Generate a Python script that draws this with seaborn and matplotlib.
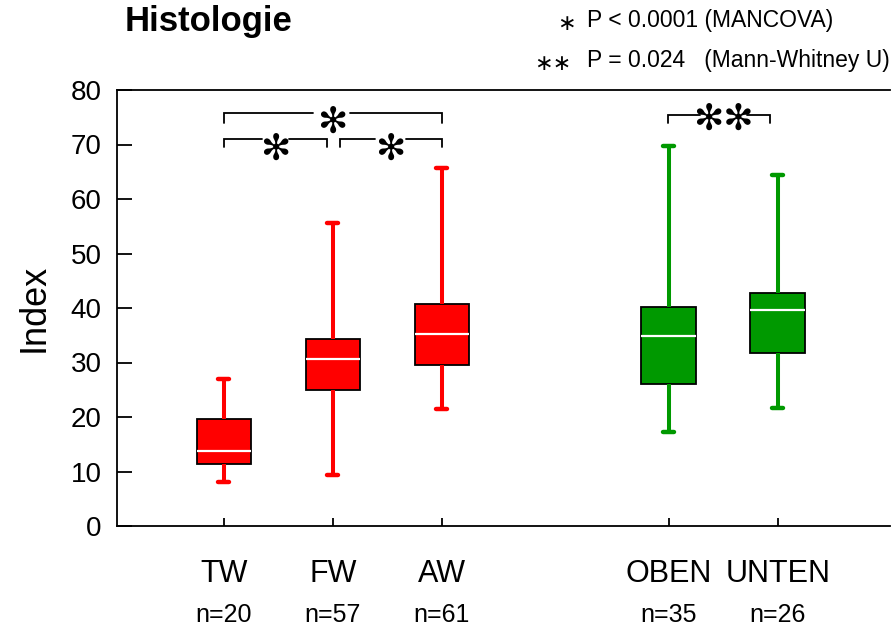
import numpy as np
import pandas as pd
import matplotlib
matplotlib.use("Agg")
import matplotlib.pyplot as plt
import matplotlib.transforms as mtransforms
import seaborn as sns

# ---- data (min, Q1, median, Q3, max) ----
groups = ["TW", "FW", "AW", "OBEN", "UNTEN"]
n_labels = ["n=20", "n=57", "n=61", "n=35", "n=26"]
mins = [8.1, 9.3, 21.4, 17.2, 21.6]
q1s = [11.3, 25.0, 29.6, 26.0, 31.8]
medians = [13.7, 30.7, 35.3, 34.9, 39.7]
q3s = [19.6, 34.4, 40.8, 40.2, 42.8]
maxs = [27.0, 55.6, 65.6, 69.8, 64.4]
colors = ["#FF0000", "#FF0000", "#FF0000", "#009900", "#009900"]
y_ticks = [0, 10, 20, 30, 40, 50, 60, 70, 80]

# positions on the x axis (layout)
positions = [0, 1, 2, 4.08, 5.08]

rows = []
for g, p, a, b, c, d, e in zip(groups, positions, mins, q1s, medians, q3s, maxs):
    for v in (a, b, c, d, e):
        rows.append({"group": g, "pos": p, "value": v})
df = pd.DataFrame(rows)

sns.set_theme(style="white")
plt.rcParams["font.family"] = ["Liberation Sans", "DejaVu Sans"]
for k in ["text.color", "axes.labelcolor", "xtick.color", "ytick.color", "axes.edgecolor"]:
    plt.rcParams[k] = "black"

fig = plt.figure(figsize=(8.92, 6.27), dpi=100)
ax = fig.add_axes([117 / 892, 1 - 526 / 627, (890 - 117) / 892, (526 - 90) / 627])

sns.boxplot(
    data=df, x="pos", y="value", hue="group", hue_order=groups,
    palette=dict(zip(groups, colors)), native_scale=True, dodge=False,
    saturation=1, width=0.5, whis=(0, 100), legend=False, ax=ax, fill=True,
    linecolor="black", linewidth=1.2,
    boxprops=dict(edgecolor="black", linewidth=1.3),
    medianprops=dict(color="white", linewidth=1.6),
    whiskerprops=dict(linewidth=2.9),
    capprops=dict(linewidth=3.2, solid_capstyle="round"),
    capwidths=0.1,
)

# colour whiskers and caps like their boxes (medians stay white)
for ln in ax.lines:
    c = matplotlib.colors.to_hex(ln.get_color())
    if c == "#ffffff":
        continue
    xm = np.asarray(ln.get_xdata(), dtype=float).mean()
    idx = int(np.argmin([abs(xm - p) for p in positions]))
    ln.set_color(colors[idx])

ax.set_xlim(-0.98, 6.11)
ax.set_ylim(0, 80)
ax.set_yticks(y_ticks)
ax.set_yticklabels([str(t) for t in y_ticks], fontsize=20)
ax.set_xticks(positions)
ax.set_xticklabels([])
ax.set_xlabel("")
ax.set_ylabel("Index", fontsize=26, labelpad=14)
ax.tick_params(axis="y", direction="in", length=11, width=1.3, pad=11, left=True)
ax.tick_params(axis="x", direction="in", length=6, width=1.3, bottom=True)
for s in ["left", "top", "bottom"]:
    ax.spines[s].set_color("black")
    ax.spines[s].set_linewidth(1.3)
ax.spines["right"].set_visible(False)

# category labels and n below the axis
trans = mtransforms.blended_transform_factory(ax.transData, ax.transAxes)
for p, g, nl in zip(positions, groups, n_labels):
    ax.text(p, -0.11, g, transform=trans, ha="center", va="center",
            fontsize=22, clip_on=False)
    ax.text(p, -0.205, nl, transform=trans, ha="center", va="center",
            fontsize=18, clip_on=False)

# significance brackets: two segments with a gap for the star
STAR = "\u273B"
def bracket(x0, x1, g0, g1, y, drop, label, ly, fs=26):
    ax.plot([x0, x0, g0], [y - drop, y, y], color="black", lw=1.3,
            solid_joinstyle="miter", clip_on=False)
    ax.plot([g1, x1, x1], [y, y, y - drop], color="black", lw=1.3,
            solid_joinstyle="miter", clip_on=False)
    ax.text((g0 + g1) / 2, ly, label, ha="center", va="center", fontsize=fs,
            family=["DejaVu Sans"])

bracket(positions[0], positions[2], 0.82, 1.16, 75.7, 1.8, STAR, 73.9)
bracket(positions[0], 0.945, 0.35, 0.60, 71.1, 1.6, STAR, 69.0)
bracket(1.064, positions[2], 1.385, 1.67, 71.1, 1.6, STAR, 69.0)
bracket(positions[3] - 0.01, positions[4] - 0.07, 4.37, 4.80, 75.5, 1.6,
        STAR + STAR, 74.6)

# title and legend text
fig.text(125 / 892, 1 - 22 / 627, "Histologie", fontsize=25, fontweight="bold",
         ha="left", va="center")
fig.text(566 / 892, 1 - 24 / 627, "\u2217", fontsize=16, ha="center", va="center",
         family=["DejaVu Sans"])
fig.text(587 / 892, 1 - 20 / 627, "P < 0.0001 (MANCOVA)", fontsize=16.5,
         ha="left", va="center")
fig.text(553 / 892, 1 - 64 / 627, "\u2217\u2217", fontsize=16, ha="center", va="center",
         family=["DejaVu Sans"])
fig.text(587 / 892, 1 - 60 / 627, "P = 0.024   (Mann-Whitney U)", fontsize=16.5,
         ha="left", va="center")

fig.savefig("out.png", dpi=100)
